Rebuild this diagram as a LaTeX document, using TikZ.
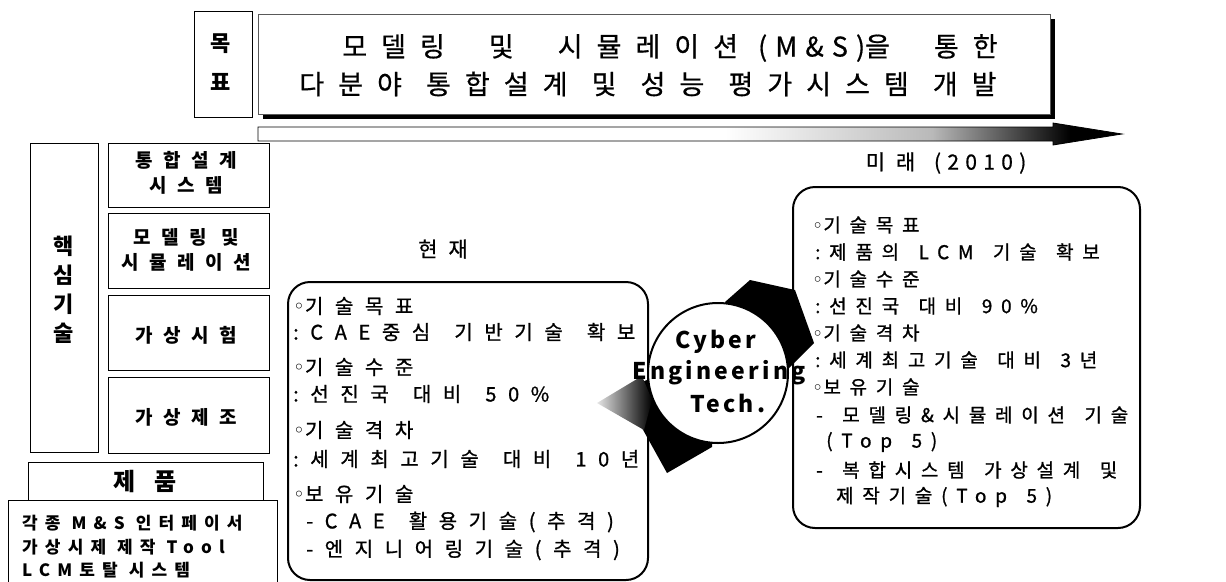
\documentclass[tikz,border=0pt]{standalone}
\usepackage{fontspec}
\setmainfont{Noto Sans CJK KR}
\newfontfamily\krbox[LetterSpace=58,WordSpace=1.5,FakeBold=1]{Noto Sans CJK KR}
\newfontfamily\krrbox[LetterSpace=46,WordSpace=1.5,FakeBold=1]{Noto Sans CJK KR}
\newfontfamily\krtitle[LetterSpace=52,WordSpace=1.2,FakeBold=0.6]{Noto Sans CJK KR}
\newfontfamily\krlat[LetterSpace=30,FakeBold=0.6]{Noto Sans CJK KR}
\newfontfamily\krleft[LetterSpace=55]{Noto Sans CJK KR}
\newfontfamily\krbot[LetterSpace=42]{Noto Sans CJK KR}
\newfontfamily\krcyb[LetterSpace=14]{Noto Sans CJK KR}
\newfontfamily\dv{DejaVu Sans}
\usetikzlibrary{shadows}
\pgfdeclarehorizontalshading{barshade}{100bp}{color(0bp)=(white); color(52bp)=(white); color(64bp)=(gray!55); color(72bp)=(black); color(100bp)=(black)}
\newcommand{\bul}{{\dv ◦}}
\newcommand{\tw}{\hspace{44pt}}
\begin{document}
\begin{tikzpicture}[x=1pt,y=-1pt,
  box/.style={draw=black, line width=1pt, inner sep=0pt},
  rbox/.style={draw=black, line width=2pt, rounded corners=22pt, inner sep=0pt},
  ttl/.style={font=\krtitle\fontsize{27}{27}\selectfont, inner sep=0pt},
  lft/.style={font=\krleft\bfseries\fontsize{19}{19}\selectfont, inner sep=0pt},
  bot/.style={font=\krbot\bfseries\fontsize{17}{17}\selectfont, inner sep=0pt, anchor=west},
  ln/.style={font=\krbox\fontsize{20}{20}\selectfont, inner sep=0pt, anchor=west},
  rn/.style={font=\krrbox\fontsize{19}{19}\selectfont, inner sep=0pt, anchor=west},
  lab/.style={font=\krtitle\fontsize{21}{21}\selectfont, inner sep=0pt},
  cyb/.style={font=\krcyb\bfseries\fontsize{23}{23}\selectfont, inner sep=0pt}]
\useasboundingbox (0,0) rectangle (1226,581);
% goal
\node[box, minimum width=58pt, minimum height=106pt] (goal) at (223,64) {};
\node[lab, font=\krleft\bfseries\fontsize{22}{22}\selectfont] (goal1) at (221,44) {목};
\node[lab, font=\krleft\bfseries\fontsize{22}{22}\selectfont] (goal2) at (221,82) {표};
% title
\node[box, draw=gray!70!black, minimum width=792pt, minimum height=100pt, fill=white,
      drop shadow={shadow xshift=5pt, shadow yshift=-5pt, fill=black, opacity=1}] (title) at (654,64) {};
\node[ttl] (t1) at (670,48) {모델링\tw{}및\tw{}시뮬레이션\hspace{20pt}{\krlat(M\&S)}을\tw{}통한};
\node[ttl] (t2) at (648,84) {다분야 통합설계 및 성능 평가시스템 개발};
% time bar
\shade[shading=barshade, draw=black, line width=0.8pt]
  (258,127) -- (1053,127) -- (1053,123) -- (1122,134) -- (1053,145) -- (1053,141) -- (258,141) -- cycle;
\node[lab] (future) at (946,163) {미래 {\krlat(2010)}};
% left column
\node[box, minimum width=68pt, minimum height=309pt] (core) at (64,297.5) {};
\node[lft, font=\krleft\bfseries\fontsize{22}{22}\selectfont] (c1) at (64,246) {핵};
\node[lft, font=\krleft\bfseries\fontsize{22}{22}\selectfont] (c2) at (64,275) {심};
\node[lft, font=\krleft\bfseries\fontsize{22}{22}\selectfont] (c3) at (64,304) {기};
\node[lft, font=\krleft\bfseries\fontsize{22}{22}\selectfont] (c4) at (64,333) {술};
\node[box, minimum width=161pt, minimum height=64pt] (s1) at (188.5,175) {};
\node[lft, align=center] (s1t) at (186,173) {통합설계\\[6pt]시스템};
\node[box, minimum width=161pt, minimum height=75pt] (s2) at (188.5,250.5) {};
\node[lft, align=center] (s2t) at (186,250) {모델링 및\\[6pt]시뮬레이션};
\node[box, minimum width=161pt, minimum height=75pt] (s3) at (188.5,332.5) {};
\node[lft] (s3t) at (186,335) {가상시험};
\node[box, minimum width=161pt, minimum height=76pt] (s4) at (188.5,415) {};
\node[lft] (s4t) at (186,417) {가상제조};
\node[box, minimum width=235pt, minimum height=38pt] (prod) at (145.5,481) {};
\node[lft, font=\krleft\bfseries\fontsize{24}{24}\selectfont] (prodt) at (145,481) {제 품};
\node[box, minimum width=269pt, minimum height=90pt] (tools) at (142.5,545) {};
\node[bot] (b1) at (22,523) {각종 M\&S 인터페이서};
\node[bot] (b2) at (22,547) {가상시제 제작 Tool};
\node[bot] (b3) at (22,570) {LCM토탈 시스템};
% present
\node[lab] (now) at (443,249) {현재};
\node[rbox, minimum width=360pt, minimum height=298pt] (pbox) at (468,431) {};
\node[ln] (p1) at (293,306) {\bul 기술목표};
\node[ln] (p2) at (293,332) {:CAE중심 기반기술 확보};
\node[ln] (p3) at (293,367) {\bul 기술수준};
\node[ln] (p4) at (293,394) {:선진국 대비 50\%};
\node[ln] (p5) at (293,430) {\bul 기술격차};
\node[ln] (p6) at (293,459) {:세계최고기술 대비 10년};
\node[ln] (p7) at (293,494) {\bul 보유기술};
\node[ln] (p8) at (306,522) {-CAE 활용기술(추격)};
\node[ln] (p9) at (306,550) {-엔지니어링기술(추격)};
% future box
\node[rbox, minimum width=347pt, minimum height=341pt] (fbox) at (966.5,357.5) {};
% black rotating arrow around circle
\fill[black] (725,302) -- (750,280) -- (795,290) -- (814,343) -- (785,372) -- (740,330) -- cycle;
\fill[black] (640,383) -- (665,372) -- (712,420) -- (712,447) -- (667,473) -- (642,428) -- cycle;
\shade[left color=gray!20, right color=black] (597,403) -- (642,376) -- (652,400) -- (644,430) -- cycle;
% circle
\node[circle, draw=black, line width=2pt, fill=white, minimum size=140pt, inner sep=0pt] (cyc) at (718,373) {};
\node[cyb] (cy1) at (716,342) {Cyber};
\node[cyb] (cy2) at (719,373) {Engineering};
\node[cyb] (cy3) at (728,403) {Tech.};
% future texts
\node[rn] (f1) at (812,225) {\bul 기술목표};
\node[rn] (f2) at (815,252) {:제품의 LCM 기술 확보};
\node[rn] (f3) at (812,279) {\bul 기술수준};
\node[rn] (f4) at (815,306) {:선진국 대비 90\%};
\node[rn] (f5) at (812,333) {\bul 기술격차};
\node[rn] (f6) at (815,360) {:세계최고기술 대비 3년};
\node[rn] (f7) at (812,387) {\bul 보유기술};
\node[rn] (f8) at (816,415) {- 모델링\&시뮬레이션 기술};
\node[rn] (f9) at (826,442) {(Top 5)};
\node[rn] (f10) at (816,470) {- 복합시스템 가상설계 및};
\node[rn] (f11) at (836,497) {제작기술(Top 5)};
\end{tikzpicture}
\end{document}
